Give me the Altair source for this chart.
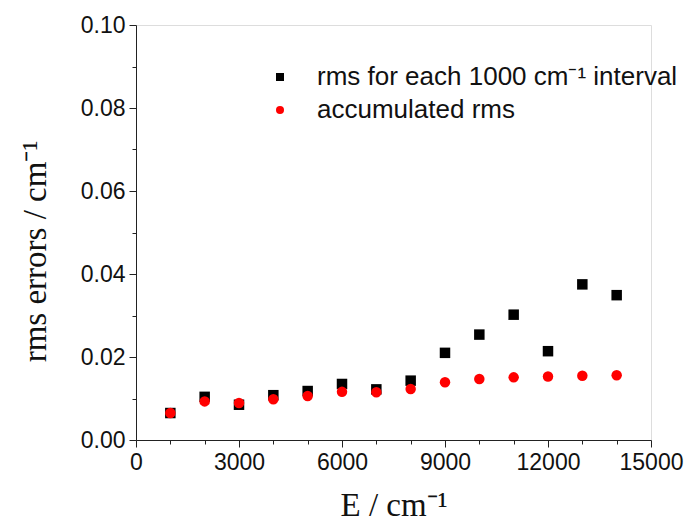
import altair as alt
import pandas as pd

energies = [1000, 2000, 3000, 4000, 5000, 6000, 7000, 8000, 9000, 10000, 11000, 12000, 13000, 14000]
rms_interval = [0.0065, 0.0104, 0.0085, 0.0108, 0.0118, 0.0135, 0.0122, 0.0143, 0.0210, 0.0254, 0.0302, 0.0214, 0.0375, 0.0349]
rms_accum = [0.0065, 0.0093, 0.0089, 0.0098, 0.0106, 0.0116, 0.0115, 0.0123, 0.0139, 0.0147, 0.0151, 0.0153, 0.0155, 0.0156]
series_names = ["rms for each 1000 cm\u207b\u00b9 interval", "accumulated rms"]
series_colors = ["#000000", "#ff0000"]
series_shapes = ["square", "circle"]
x_ticks = list(range(0, 15001, 1000))
y_ticks = [i / 100 for i in range(0, 11)]

rows = []
for e, v in zip(energies, rms_interval):
    rows.append({"E": e, "rms": v, "series": series_names[0], "ord": 0})
for e, v in zip(energies, rms_accum):
    rows.append({"E": e, "rms": v, "series": series_names[1], "ord": 1})
df = pd.DataFrame(rows)

label_font = "Liberation Sans"
title_font = "Liberation Serif"

x_axis = alt.Axis(
    values=x_ticks,
    labelExpr="datum.value % 3000 === 0 ? format(datum.value, 'd') : ''",
    labelOverlap=False,
    labelFlush=False,
    tickSize={"condition": {"test": "datum.value % 3000 === 0", "value": 7}, "value": 4},
    grid=False,
    domainColor="#222222",
    tickColor="#222222",
    labelColor="#111111",
    labelFont=label_font,
    labelFontSize=23,
    labelPadding=4,
    title="E / cm\u207b\u00b9",
    titleFont=title_font,
    titleFontSize=33,
    titleFontWeight="normal",
    titleColor="#111111",
    titlePadding=15,
)

y_axis = alt.Axis(
    values=y_ticks,
    labelExpr="round(datum.value * 100) % 2 === 0 ? format(datum.value, '.2f') : ''",
    labelOverlap=False,
    labelFlush=False,
    tickSize={"condition": {"test": "round(datum.value * 100) % 2 === 0", "value": 7}, "value": 4},
    grid=False,
    domainColor="#222222",
    tickColor="#222222",
    labelColor="#111111",
    labelFont=label_font,
    labelFontSize=23,
    labelPadding=4,
    title="rms errors / cm\u207b\u00b9",
    titleFont=title_font,
    titleFontSize=33,
    titleFontWeight="normal",
    titleColor="#111111",
    titlePadding=28,
    titleY=226,
)

chart = (
    alt.Chart(df)
    .mark_point(filled=True, opacity=1, size=110)
    .encode(
        x=alt.X("E:Q", scale=alt.Scale(domain=[0, 15000], nice=False, zero=True), axis=x_axis),
        y=alt.Y("rms:Q", scale=alt.Scale(domain=[0, 0.1], nice=False), axis=y_axis),
        color=alt.Color(
            "series:N",
            scale=alt.Scale(domain=series_names, range=series_colors),
            legend=alt.Legend(
                title=None,
                orient="none",
                legendX=131,
                legendY=39,
                labelFont=label_font,
                labelFontSize=26,
                labelColor="#111111",
                labelLimit=0,
                symbolSize=64,
                symbolStrokeWidth=0,
                labelOffset=24,
                rowPadding=7,
                padding=0,
            ),
        ),
        shape=alt.Shape("series:N", scale=alt.Scale(domain=series_names, range=series_shapes)),
        order=alt.Order("ord:Q"),
    )
    .properties(
        width=515,
        height=415,
        padding={"left": 136, "top": 25, "right": 41, "bottom": 85},
        autosize=alt.AutoSizeParams(type="none"),
    )
    .configure_view(stroke=None)
    .configure(background="white")
)

chart.save("out.html", embed_options={"renderer": "svg", "actions": False})
